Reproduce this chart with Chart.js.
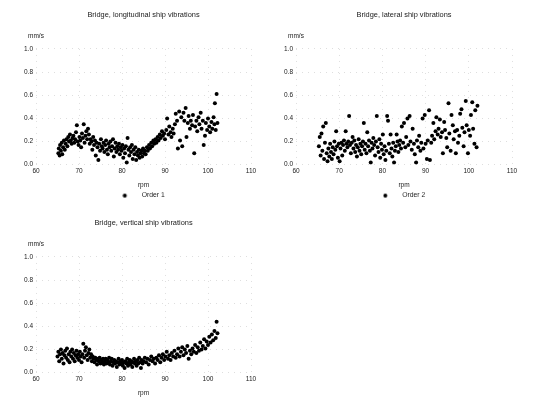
<!DOCTYPE html>
<html>
<head>
<meta charset="utf-8">
<script src="https://cdn.jsdelivr.net/npm/chart.js@4.4.1/dist/chart.umd.min.js"></script>
<style>
  html, body { margin: 0; padding: 0; background: #fff; overflow: hidden; width: 533px; height: 404px; }
  canvas { position: absolute; }
</style>
</head>
<body>
<canvas id="c1" width="282" height="209" style="left:0;top:0"></canvas>
<canvas id="c2" width="276" height="209" style="left:265px;top:0"></canvas>
<canvas id="c3" width="282" height="215" style="left:0;top:208px"></canvas>
<script>
// longitudinal - order 1
const rpm1 = [65.2,65.3,65.5,65.6,65.8,66.0,66.1,66.3,66.5,66.7,66.9,67.1,67.3,67.5,67.7,67.9,68.1,68.3,68.5,68.7,68.9,69.1,69.3,69.5,69.7,69.9,70.1,70.3,70.5,70.7,70.9,71.1,71.3,71.5,71.7,71.9,72.1,72.3,72.5,72.7,72.9,73.1,73.3,73.5,73.7,73.9,74.1,74.3,74.5,74.7,74.9,75.1,75.3,75.5,75.7,75.9,76.1,76.3,76.5,76.7,76.9,77.1,77.3,77.5,77.7,77.9,78.1,78.3,78.5,78.7,78.9,79.1,79.3,79.5,79.7,79.9,80.1,80.3,80.5,80.7,80.9,81.1,81.3,81.5,81.7,81.9,82.1,82.3,82.5,82.7,82.9,83.1,83.3,83.5,83.7,83.9,84.1,84.3,84.5,84.7,84.9,85.1,85.3,85.5,85.8,86.0,86.3,86.5,86.8,87.0,87.3,87.5,87.8,88.0,88.3,88.5,88.8,89.0,89.3,89.5,89.8,90.0,90.3,90.5,90.8,91.0,91.3,91.5,91.8,92.0,92.3,92.5,92.8,93.0,93.3,93.5,93.8,94.0,94.3,94.5,94.8,95.0,95.3,95.5,95.8,96.0,96.3,96.5,96.8,97.0,97.3,97.5,97.8,98.0,98.3,98.5,98.8,99.0,99.3,99.5,99.8,100.0,100.3,100.5,100.8,101.0,101.3,101.5,101.6,101.8,102.0,102.2];
const order1 = [0.10,0.14,0.08,0.17,0.12,0.19,0.09,0.15,0.21,0.13,0.18,0.22,0.16,0.24,0.20,0.26,0.21,0.18,0.23,0.25,0.19,0.22,0.28,0.34,0.20,0.17,0.24,0.21,0.15,0.27,0.23,0.35,0.19,0.25,0.29,0.22,0.31,0.26,0.18,0.22,0.20,0.13,0.24,0.17,0.21,0.08,0.19,0.15,0.04,0.18,0.12,0.22,0.16,0.14,0.19,0.11,0.17,0.21,0.13,0.09,0.18,0.15,0.20,0.12,0.16,0.22,0.07,0.14,0.19,0.11,0.16,0.13,0.18,0.09,0.15,0.12,0.17,0.06,0.14,0.10,0.16,0.02,0.23,0.13,0.08,0.15,0.11,0.17,0.05,0.13,0.09,0.15,0.04,0.11,0.08,0.13,0.06,0.10,0.12,0.07,0.14,0.10,0.12,0.09,0.15,0.12,0.17,0.14,0.19,0.16,0.21,0.18,0.22,0.19,0.24,0.21,0.26,0.23,0.29,0.25,0.27,0.22,0.30,0.40,0.26,0.33,0.28,0.24,0.31,0.27,0.35,0.44,0.38,0.14,0.46,0.21,0.41,0.16,0.45,0.38,0.49,0.24,0.36,0.42,0.31,0.38,0.34,0.43,0.10,0.33,0.38,0.29,0.41,0.35,0.45,0.31,0.38,0.17,0.25,0.36,0.30,0.40,0.33,0.28,0.37,0.31,0.41,0.35,0.53,0.30,0.61,0.36];

// lateral - order 2
const rpm2 = [65.3,65.5,65.7,65.9,66.1,66.3,66.5,66.7,66.9,67.1,67.3,67.5,67.7,67.9,68.1,68.3,68.5,68.7,68.9,69.1,69.3,69.5,69.7,69.9,70.1,70.3,70.5,70.7,70.9,71.1,71.3,71.5,71.7,71.9,72.1,72.3,72.5,72.7,72.9,73.1,73.3,73.5,73.7,73.9,74.1,74.3,74.5,74.7,74.9,75.1,75.3,75.5,75.7,75.9,76.1,76.3,76.5,76.7,76.9,77.1,77.3,77.5,77.7,77.9,78.1,78.3,78.5,78.7,78.9,79.1,79.3,79.5,79.7,79.9,80.1,80.3,80.5,80.7,80.9,81.1,81.3,81.5,81.7,81.9,82.1,82.3,82.5,82.7,82.9,83.1,83.3,83.5,83.7,83.9,84.1,84.3,84.5,84.8,85.0,85.3,85.5,85.8,86.0,86.3,86.5,86.8,87.0,87.3,87.5,87.8,88.0,88.3,88.5,88.8,89.0,89.3,89.5,89.8,90.0,90.3,90.5,90.8,91.0,91.3,91.5,91.8,92.0,92.3,92.5,92.8,93.0,93.3,93.5,93.8,94.0,94.3,94.5,94.8,95.0,95.3,95.5,95.8,96.0,96.3,96.5,96.8,97.0,97.3,97.5,97.8,98.0,98.3,98.5,98.8,99.0,99.3,99.5,99.8,100.0,100.3,100.5,100.8,101.0,101.3,101.5,101.8,102.0];
const order2 = [0.16,0.24,0.08,0.27,0.12,0.33,0.05,0.19,0.36,0.10,0.03,0.14,0.07,0.18,0.11,0.05,0.15,0.09,0.20,0.13,0.29,0.16,0.06,0.18,0.03,0.14,0.19,0.08,0.17,0.21,0.12,0.29,0.18,0.15,0.20,0.42,0.17,0.10,0.19,0.24,0.14,0.21,0.11,0.17,0.07,0.15,0.22,0.12,0.18,0.09,0.16,0.20,0.36,0.13,0.18,0.10,0.28,0.16,0.21,0.12,0.02,0.19,0.14,0.23,0.17,0.08,0.20,0.42,0.15,0.11,0.22,0.06,0.18,0.13,0.26,0.09,0.16,0.04,0.12,0.42,0.38,0.18,0.10,0.26,0.14,0.07,0.19,0.02,0.12,0.16,0.26,0.20,0.11,0.17,0.21,0.14,0.33,0.19,0.36,0.15,0.24,0.40,0.17,0.42,0.20,0.13,0.31,0.18,0.09,0.02,0.21,0.15,0.25,0.12,0.19,0.40,0.14,0.43,0.18,0.05,0.21,0.47,0.04,0.19,0.25,0.36,0.22,0.29,0.41,0.26,0.31,0.39,0.24,0.28,0.10,0.37,0.30,0.23,0.15,0.53,0.27,0.12,0.43,0.34,0.22,0.29,0.10,0.30,0.19,0.25,0.44,0.48,0.32,0.16,0.28,0.55,0.34,0.10,0.30,0.25,0.43,0.54,0.31,0.18,0.47,0.15,0.51];

// vertical - order 3
const rpm3 = [65.0,65.2,65.4,65.6,65.8,66.0,66.2,66.4,66.6,66.8,67.0,67.2,67.4,67.6,67.8,68.0,68.2,68.4,68.6,68.8,69.0,69.2,69.4,69.6,69.8,70.0,70.2,70.4,70.6,70.8,71.0,71.2,71.4,71.6,71.8,72.0,72.2,72.4,72.6,72.8,73.0,73.2,73.4,73.6,73.8,74.0,74.2,74.4,74.6,74.8,75.0,75.2,75.4,75.6,75.8,76.0,76.2,76.4,76.6,76.8,77.0,77.2,77.4,77.6,77.8,78.0,78.2,78.4,78.6,78.8,79.0,79.2,79.4,79.6,79.8,80.0,80.2,80.4,80.6,80.8,81.0,81.2,81.4,81.6,81.8,82.0,82.2,82.4,82.6,82.8,83.0,83.2,83.4,83.6,83.8,84.0,84.2,84.4,84.6,84.8,85.0,85.3,85.6,85.9,86.2,86.5,86.8,87.1,87.4,87.7,88.0,88.3,88.6,88.9,89.2,89.5,89.8,90.1,90.4,90.7,91.0,91.3,91.6,91.9,92.2,92.5,92.8,93.1,93.4,93.7,94.0,94.3,94.6,94.9,95.2,95.5,95.8,96.1,96.4,96.7,97.0,97.3,97.6,97.9,98.2,98.5,98.8,99.1,99.4,99.7,100.0,100.3,100.6,100.9,101.2,101.5,101.8,102.0,102.2];
const order3 = [0.14,0.18,0.10,0.16,0.20,0.12,0.17,0.08,0.15,0.19,0.13,0.21,0.11,0.16,0.09,0.18,0.14,0.20,0.12,0.17,0.10,0.15,0.19,0.13,0.16,0.11,0.18,0.14,0.09,0.16,0.25,0.13,0.19,0.22,0.15,0.11,0.17,0.20,0.13,0.16,0.10,0.14,0.12,0.09,0.13,0.11,0.07,0.12,0.10,0.13,0.08,0.11,0.09,0.12,0.07,0.10,0.12,0.08,0.11,0.09,0.13,0.07,0.10,0.12,0.06,0.09,0.11,0.08,0.10,0.05,0.09,0.12,0.07,0.10,0.08,0.11,0.06,0.09,0.04,0.10,0.08,0.12,0.06,0.09,0.11,0.07,0.10,0.05,0.09,0.12,0.08,0.10,0.06,0.11,0.08,0.13,0.09,0.04,0.11,0.08,0.10,0.13,0.09,0.12,0.07,0.11,0.14,0.10,0.12,0.08,0.13,0.11,0.15,0.09,0.13,0.16,0.11,0.14,0.18,0.12,0.15,0.11,0.17,0.14,0.19,0.13,0.16,0.21,0.14,0.18,0.22,0.15,0.20,0.17,0.23,0.12,0.19,0.16,0.21,0.18,0.24,0.17,0.22,0.19,0.26,0.20,0.23,0.29,0.21,0.27,0.24,0.31,0.26,0.33,0.28,0.36,0.30,0.44,0.34];

const titles = ['Bridge, longitudinal ship vibrations', 'Bridge, lateral ship vibrations', 'Bridge, vertical ship vibrations'];
const seriesNames = ['Order 1', 'Order 2', 'Order 3'];
const xTicks = [60, 70, 80, 90, 100, 110];
const yTicks = [0.0, 0.2, 0.4, 0.6, 0.8, 1.0];
const unitLabel = 'mm/s';
const xLabel = 'rpm';

const FONT = '"Liberation Sans", Arial, sans-serif';
const INK = '#1a1a1a';
const GRID = 'rgba(0,0,0,0.13)';

// "mm/s" por cima do eixo y
const unitPlugin = {
    id: 'unitLabel',
    afterDraw(chart) {
        const { ctx, chartArea } = chart;
        ctx.save();
        ctx.font = '6.5px ' + FONT;
        ctx.fillStyle = INK;
        ctx.textBaseline = 'middle';
        ctx.textAlign = 'left';
        ctx.fillText(unitLabel, chartArea.left - 8, chartArea.top - 13);
        ctx.restore();
    }
};

// marcador da legenda: ponto com espaço à direita (como no original)
const legendMark = document.createElement('canvas');
legendMark.width = 16;
legendMark.height = 6;
const lm = legendMark.getContext('2d');
lm.fillStyle = '#000';
lm.beginPath();
lm.arc(2.5, 3, 2, 0, Math.PI * 2);
lm.fill();

function makeChart(id, title, xs, ys, name, yWidth, rightPad, legendGap) {
    return new Chart(document.getElementById(id), {
        type: 'scatter',
        data: {
            datasets: [{
                label: name,
                data: xs.map((x, i) => ({ x: x, y: ys[i] })),
                backgroundColor: '#000',
                borderColor: '#000',
                pointRadius: 2,
                pointBorderWidth: 0
            }]
        },
        options: {
            responsive: false,
            animation: false,
            layout: { padding: { left: 0, right: rightPad, top: 0, bottom: 0 } },
            scales: {
                x: {
                    type: 'linear', min: xTicks[0], max: xTicks[xTicks.length - 1],
                    afterBuildTicks: s => { s.ticks = xTicks.map(v => ({ value: v })); },
                    afterFit: s => { s.height = 27.5; },
                    border: { display: false, dash: [1, 5] },
                    grid: { color: GRID, drawTicks: false },
                    ticks: { color: INK, font: { family: FONT, size: 6.5 }, padding: 3, maxRotation: 0 },
                    title: { display: true, text: xLabel, color: INK, font: { family: FONT, size: 6.5 }, padding: { top: 0, bottom: 2.6 } }
                },
                y: {
                    type: 'linear', min: 0, max: 1,
                    afterBuildTicks: s => { s.ticks = yTicks.map(v => ({ value: v })); },
                    afterFit: s => { s.width = yWidth; },
                    border: { display: false, dash: [1, 5] },
                    grid: { color: GRID, drawTicks: false },
                    ticks: { color: INK, font: { family: FONT, size: 6.5 }, padding: 3, callback: v => v.toFixed(1) }
                }
            },
            plugins: {
                title: {
                    display: true, fullSize: false, text: title, color: INK,
                    font: { family: FONT, size: 7.4, weight: 'normal' }, padding: { top: 10.6, bottom: 29.5 }
                },
                legend: {
                    position: 'bottom', fullSize: false,
                    labels: {
                        color: INK, font: { family: FONT, size: 6.8 },
                        usePointStyle: true, pointStyle: legendMark, pointStyleWidth: 16, boxHeight: 6, padding: legendGap
                    }
                },
                tooltip: { enabled: false }
            }
        },
        plugins: [unitPlugin]
    });
}

makeChart('c1', titles[0], rpm1, order1, seriesNames[0], 36, 31, 0);
makeChart('c2', titles[1], rpm2, order2, seriesNames[1], 31, 29, 0);
makeChart('c3', titles[2], rpm3, order3, seriesNames[2], 36, 31, 6);
</script>
</body>
</html>
